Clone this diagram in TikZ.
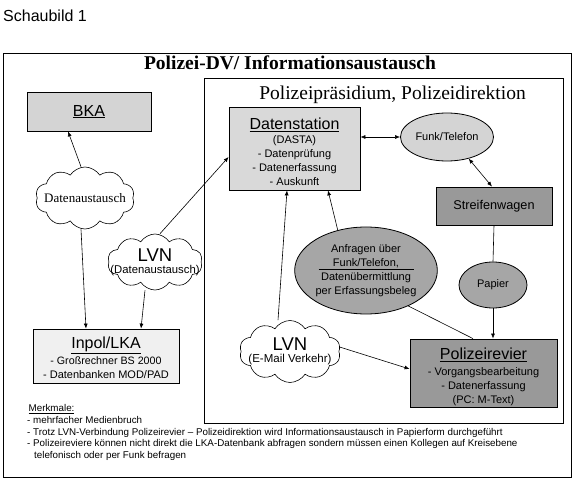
\documentclass[tikz,border=0pt]{standalone}
\usepackage{fontspec}
\setmainfont{Liberation Serif}
\newfontfamily\arialf{Liberation Sans}
\usetikzlibrary{shapes.geometric,shapes.symbols,arrows.meta,calc}
\newcommand\fs[2]{\fontsize{#1}{#2}\selectfont}
\definecolor{gBKA}{gray}{0.83}
\definecolor{gDS}{gray}{0.85}
\definecolor{gIN}{gray}{0.94}
\definecolor{gFT}{gray}{0.83}
\definecolor{gSW}{gray}{0.60}
\definecolor{gPR}{gray}{0.60}
\definecolor{gAN}{gray}{0.65}
\definecolor{gPA}{gray}{0.65}
\tikzset{
  box/.style={draw=black, line width=0.8pt, inner sep=0pt, align=center, font=\arialf\fs{11}{14}},
  oval/.style={ellipse, draw=black, line width=0.8pt, inner sep=0pt, align=center, font=\arialf\fs{11}{14.2}},
  cloudy/.style={cloud, cloud puffs=10, cloud puff arc=115, draw=black, fill=white, line width=0.6pt, inner sep=0pt},
  ctext/.style={inner sep=0pt, align=center},
  arr/.style={-{Latex[length=5pt,width=4pt]}, line width=0.6pt},
  darr/.style={{Latex[length=5pt,width=4pt]}-{Latex[length=5pt,width=4pt]}, line width=0.6pt},
  ln/.style={line width=0.6pt},
  frame/.style={draw=black, line width=0.8pt}
}
\begin{document}
\begin{tikzpicture}[x=1pt,y=-1pt]
\useasboundingbox (0,0) rectangle (576,481);
\fill[white] (0,0) rectangle (576,481);
% frames
\draw[frame] (3,53) rectangle (571,477);
\draw[frame] (204,78) rectangle (563,423);
% titles
\node[anchor=base west, inner sep=0pt, font=\arialf\fs{16}{18}] (sb) at (3,21.7) {Schaubild 1};
\node[anchor=base, inner sep=0pt, font=\bfseries\fs{19.5}{22}] (title) at (290,70) {Polizei-DV/ Informationsaustausch};
\node[anchor=base, inner sep=0pt, font=\fs{19.5}{22}] (sub) at (392.5,100) {Polizeipräsidium, Polizeidirektion};
% boxes
\node[box, fill=gBKA, minimum width=124pt, minimum height=39pt] (bka) at (89,111.5) {\fs{16}{18}\underline{BKA}};
\node[box, fill=gDS, minimum width=131pt, minimum height=83pt] (ds) at (294.5,148.5)
  {{\fs{16}{18}\rule{0pt}{18pt}\underline{Datenstation}}\\(DASTA)\\- Datenprüfung\\- Datenerfassung\\- Auskunft};
\node[box, fill=gIN, minimum width=146pt, minimum height=54pt] (inpol) at (106,356)
  {{\fs{16}{18}\rule{0pt}{15pt}\underline{Inpol/LKA}}\\[2.5pt]\fs{10.7}{11.6}- Großrechner BS 2000\\- Datenbanken MOD/PAD};
\node[box, fill=gSW, minimum width=116pt, minimum height=38pt, font=\arialf\fs{12.7}{14}] (sw) at (494,206) {Streifenwagen};
\node[box, fill=gPR, minimum width=147pt, minimum height=68pt] (pr) at (483.5,373)
  {{\fs{16}{18}\rule{0pt}{19pt}\underline{Polizeirevier}}\\[1.5pt]- Vorgangsbearbeitung\\- Datenerfassung\\(PC: M-Text)};
% ellipses
\node[oval, fill=gFT, minimum width=93pt, minimum height=48pt] (ft) at (447,137) {Funk/Telefon};
\node[oval, fill=gPA, minimum width=68pt, minimum height=46pt] (pa) at (493,285) {Papier};
\node[oval, fill=gAN, minimum width=138pt, minimum height=87pt] (an) at (366,270.5)
  {Anfragen über\\\underline{\makebox[95pt]{Funk/Telefon,}}\\Datenübermittlung\\per Erfassungsbeleg};
% clouds
\node[cloudy, minimum width=99pt, minimum height=62pt] (c1) at (85,198) {};
\node[ctext, font=\fs{13}{15}] (c1t) at (c1) {Datenaustausch};
\node[cloudy, minimum width=95pt, minimum height=56pt] (c2) at (155,262) {};
\node[ctext, font=\arialf] (c2t) at (c2) {{\fs{18.5}{20}LVN}\\\fs{11.3}{16.5}(Datenaustausch)};
\node[cloudy, minimum width=101pt, minimum height=62pt] (c3) at (290,351.5) {};
\node[ctext, font=\arialf] (c3t) at (c3) {{\fs{18.5}{20}LVN}\\\fs{11.5}{15.5}(E-Mail Verkehr)};
% Merkmale
\node[anchor=north west, inner sep=0pt, align=left, font=\arialf\fs{9.8}{11.75}] (mm) at (27,404.3)
  {\hspace*{1.5pt}\underline{Merkmale:}\\
   - mehrfacher Medienbruch\\
   - Trotz LVN-Verbindung Polizeirevier – Polizeidirektion wird Informationsaustausch in Papierform durchgeführt\\
   - Polizeireviere können nicht direkt die LKA-Datenbank abfragen sondern müssen einen Kollegen auf Kreisebene\\
   \hspace*{7pt}telefonisch oder per Funk befragen};
% connectors
\draw[arr] ([xshift=-4pt]c1.north) -- ([xshift=-21pt]bka.south);
\draw[arr] ([xshift=-4pt]c1.south) -- ([xshift=-20pt]inpol.north);
\draw[arr] ([xshift=-10pt]c2.south) -- ([xshift=35pt]inpol.north);
\draw[arr] ([xshift=5pt]c2.north) -- ([yshift=-8.5pt]ds.west);
\draw[darr] (ds.east |- ft.west) -- (ft.west);
\draw[darr] (ft.-45) -- ([xshift=-2pt]sw.north);
\draw[ln] (sw.south) -- (pa.north);
\draw[arr] (pa.south) -- (pa.south |- pr.north);
\draw[arr] (an.125) -- ([xshift=33.5pt]ds.south);
\draw[arr] ([xshift=-12pt]c3.north) -- ([xshift=-7.5pt]ds.south);
\draw[arr] (c3.5) -- ([yshift=4pt]pr.west);
\draw[ln] (an.-40) -- ([xshift=-10.5pt]pr.north);
\end{tikzpicture}
\end{document}
